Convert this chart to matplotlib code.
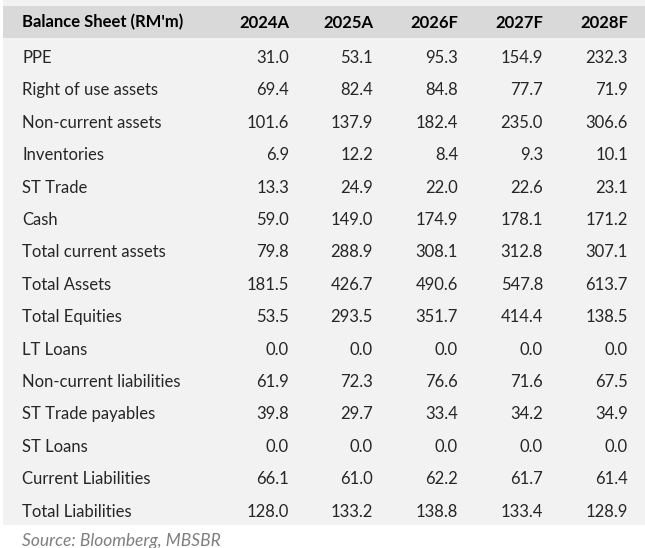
import matplotlib
matplotlib.use("Agg")
import matplotlib.pyplot as plt
from matplotlib.patches import Rectangle

################################################
title   = "Balance Sheet (RM'm)"
years   = ["2024A", "2025A", "2026F", "2027F", "2028F"]
items   = ["PPE", "Right of use assets", "Non-current assets", "Inventories",
           "ST Trade", "Cash", "Total current assets", "Total Assets",
           "Total Equities", "LT Loans", "Non-current liabilities",
           "ST Trade payables", "ST Loans", "Current Liabilities",
           "Total Liabilities"]
y2024 = [31.0, 69.4, 101.6, 6.9, 13.3, 59.0, 79.8, 181.5, 53.5, 0.0, 61.9, 39.8, 0.0, 66.1, 128.0]
y2025 = [53.1, 82.4, 137.9, 12.2, 24.9, 149.0, 288.9, 426.7, 293.5, 0.0, 72.3, 29.7, 0.0, 61.0, 133.2]
y2026 = [95.3, 84.8, 182.4, 8.4, 22.0, 174.9, 308.1, 490.6, 351.7, 0.0, 76.6, 33.4, 0.0, 62.2, 138.8]
y2027 = [154.9, 77.7, 235.0, 9.3, 22.6, 178.1, 312.8, 547.8, 414.4, 0.0, 71.6, 34.2, 0.0, 61.7, 133.4]
y2028 = [232.3, 71.9, 306.6, 10.1, 23.1, 171.2, 307.1, 613.7, 138.5, 0.0, 67.5, 34.9, 0.0, 61.4, 128.9]
source = "Source: Bloomberg, MBSBR"
################################################

columns = [y2024, y2025, y2026, y2027, y2028]
col_right = [289, 373, 458, 543, 628]   # right edge of each number column (px)
row0, row_step = 58, 32.4

plt.rcParams['font.family'] = ['Lato', 'DejaVu Sans']

fig = plt.figure(figsize=(6.45, 5.48), dpi=100)
ax = fig.add_axes([0, 0, 1, 1])
ax.set_xlim(0, 645)
ax.set_ylim(548, 0)
ax.axis("off")

# backgrounds
ax.add_patch(Rectangle((3, 0), 642, 525, color="#f2f2f2", lw=0))
ax.add_patch(Rectangle((3, 6), 642, 32, color="#d9d9d9", lw=0))

# header
ax.text(22, 22.5, title, fontsize=12, fontweight="bold", color="black",
        ha="left", va="center")
for x, yr in zip(col_right, years):
    ax.text(x, 22.5, yr, fontsize=12, fontweight="bold", color="black",
            ha="right", va="center")

# body
for i, name in enumerate(items):
    y = row0 + i * row_step
    ax.text(22, y, name, fontsize=12, color="#262626", ha="left", va="center")
    for x, col in zip(col_right, columns):
        ax.text(x, y, f"{col[i]:.1f}", fontsize=12, color="#262626",
                ha="right", va="center")

ax.text(22, 541, source, fontsize=12.5, style="italic", color="#7f7f7f",
        ha="left", va="center")

fig.savefig("out.png", dpi=100)
